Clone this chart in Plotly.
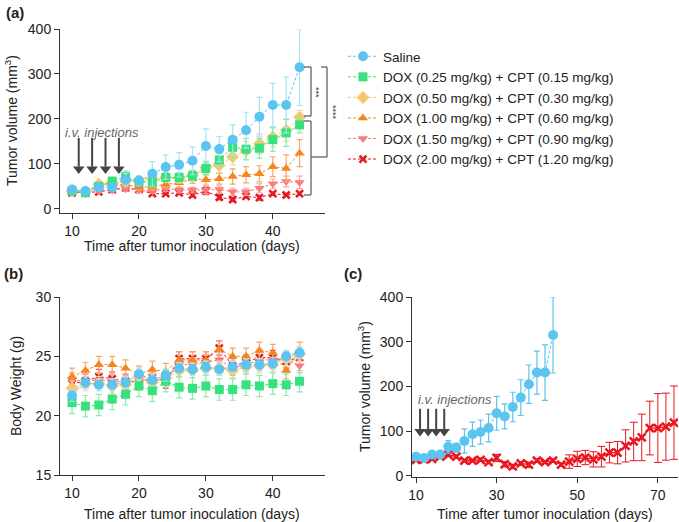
import plotly.graph_objects as go

W, H = 679, 522

# ---------------- data ----------------
days_a = [10, 12, 14, 16, 18, 20, 22, 24, 26, 28, 30, 32, 34, 36, 38, 40, 42, 44]
days_c_red = days_a + [46, 48, 50, 52, 54, 56, 58, 60, 62, 64, 66, 68, 70, 72, 74]

names = ["Saline",
         "DOX (0.25 mg/kg) + CPT (0.15 mg/kg)",
         "DOX (0.50 mg/kg) + CPT (0.30 mg/kg)",
         "DOX (1.00 mg/kg) + CPT (0.60 mg/kg)",
         "DOX (1.50 mg/kg) + CPT (0.90 mg/kg)",
         "DOX (2.00 mg/kg) + CPT (1.20 mg/kg)"]

# (a) tumor volume
tv_saline = [43, 40, 48, 48, 65, 63, 78, 93, 98, 107, 140, 133, 154, 175, 205, 231, 231, 315]
tv_saline_err = [4, 4, 5, 5, 14, 10, 27, 27, 27, 31, 38, 28, 33, 40, 43, 48, 62, 85]
tv_d025 = [40, 36, 50, 62, 72, 60, 59, 70, 70, 74, 90, 109, 137, 133, 135, 154, 169, 187]
tv_d025_err = [4, 4, 5, 6, 12, 8, 10, 10, 10, 12, 15, 15, 24, 24, 22, 26, 30, 18]
tv_d050 = [40, 38, 55, 58, 62, 62, 68, 70, 68, 75, 92, 97, 116, 130, 145, 160, 175, 204]
tv_d050_err = [4, 4, 6, 6, 8, 8, 10, 10, 10, 10, 14, 16, 18, 20, 22, 22, 25, 15]
tv_d100 = [38, 38, 55, 52, 55, 48, 50, 55, 58, 67, 65, 67, 72, 76, 78, 94, 90, 124]
tv_d100_err = [3, 3, 5, 5, 6, 6, 8, 8, 10, 10, 12, 12, 17, 18, 18, 22, 30, 30]
tv_d150 = [38, 38, 40, 42, 45, 42, 40, 45, 42, 42, 42, 43, 38, 38, 46, 56, 61, 59]
tv_d150_err = [3, 3, 4, 4, 5, 5, 5, 6, 6, 6, 8, 8, 8, 8, 10, 10, 12, 14]
tv_d200 = [36, 37, 38, 43, 47, 43, 34, 34, 36, 31, 40, 26, 21, 28, 25, 34, 31, 34,
           25, 32, 38, 41, 37, 43, 52, 52, 67, 77, 86, 107, 107, 110, 119]
tv_d200_err = [3, 3, 3, 3, 4, 4, 3, 3, 4, 4, 8, 6, 5, 4, 6, 4, 3, 4,
               4, 15, 17, 16, 17, 23, 23, 25, 36, 43, 52, 60, 77, 75, 82]

# (b) body weight
bw_saline = [21.7, 22.8, 22.6, 22.6, 22.8, 23.5, 23.0, 23.4, 24.0, 23.9, 24.1, 23.9, 24.1, 24.3, 24.3, 24.4, 25.0, 25.3]
bw_d025 = [21.1, 20.8, 20.9, 21.4, 21.8, 22.5, 22.1, 22.9, 22.4, 22.3, 22.5, 22.2, 22.2, 22.6, 22.5, 22.7, 22.6, 22.9]
bw_d050 = [22.3, 22.7, 22.7, 22.5, 22.6, 23.3, 22.8, 23.2, 23.8, 23.8, 24.0, 24.0, 23.8, 24.1, 24.2, 24.3, 24.8, 25.2]
bw_d100 = [23.3, 23.8, 24.3, 24.3, 24.0, 23.5, 23.9, 23.7, 24.7, 24.7, 24.7, 25.6, 25.0, 25.0, 25.5, 25.3, 23.8, 25.5]
bw_d150 = [23.0, 22.9, 23.0, 22.9, 22.8, 23.0, 23.0, 23.0, 24.3, 24.3, 24.5, 24.7, 24.0, 24.3, 24.7, 24.7, 24.7, 24.2]
bw_d200 = [22.7, 22.9, 23.3, 23.1, 22.9, 22.8, 23.2, 22.9, 24.8, 24.8, 24.8, 25.7, 24.2, 24.5, 24.9, 24.9, 24.6, 24.9]
bw_err_saline = [0.5] * 18
bw_err_d025 = [0.9] * 18
bw_err_d050 = [0.6] * 18
bw_err_d100 = [0.7] * 18
bw_err_d150 = [0.6] * 18
bw_err_d200 = [0.6] * 18

injection_days = [11, 13, 15, 17]
arrow_a = (158, 84)   # tail, tip (mm3) in panel a
arrow_c = (150, 94)   # tail, tip (mm3) in panel c
ticks_a_x = [10, 20, 30, 40]
ticks_a_y = [0, 100, 200, 300, 400]
ticks_b_y = [15, 20, 25, 30]
ticks_c_x = [10, 30, 50, 70]

# ---------------- styles ----------------
colors = ["#5BC4F1", "#35E27B", "#F8C66C", "#F5861F", "#F77C7C", "#E8161E"]
err_colors = ["#A3E4F7", "#86EDAF", "#F9D59A", "#F7A966", "#F9A8A8", "#EE5A5E"]
symbols = ["circle", "square", "diamond", "triangle-up", "triangle-down", "x-thin"]
sizes = [10, 9, 10, 9, 9, 7]

FONT = "Liberation Sans, Arial, Helvetica, sans-serif"
AX = "#333333"


def px(x):
    return x / W


def py(y):
    return 1 - y / H


fig = go.Figure()

tv_vals = [tv_saline, tv_d025, tv_d050, tv_d100, tv_d150, tv_d200[:18]]
tv_errs = [tv_saline_err, tv_d025_err, tv_d050_err, tv_d100_err, tv_d150_err, tv_d200_err[:18]]
bw_vals = [bw_saline, bw_d025, bw_d050, bw_d100, bw_d150, bw_d200]
bw_errs = [bw_err_saline, bw_err_d025, bw_err_d050, bw_err_d100, bw_err_d150, bw_err_d200]


def marker(i):
    m = dict(symbol=symbols[i], size=sizes[i], color=colors[i])
    if symbols[i] == "x-thin":
        m["line"] = dict(width=2.5, color=colors[i])
    else:
        m["line"] = dict(width=0)
    return m


# injection arrows (shaft + head)
def arrows(xa, ya, tail, tip, head_offset):
    xs, ys = [], []
    for d in injection_days:
        xs += [d, d, None]
        ys += [tail, tip + head_offset, None]
    fig.add_trace(go.Scatter(x=xs, y=ys, mode="lines", line=dict(color="#444", width=2),
                             xaxis=xa, yaxis=ya, showlegend=False, hoverinfo="skip"))
    fig.add_trace(go.Scatter(x=injection_days, y=[tip + head_offset / 2] * len(injection_days), mode="markers",
                             marker=dict(symbol="triangle-down", size=10, color="#444", line=dict(width=0)),
                             xaxis=xa, yaxis=ya, showlegend=False, hoverinfo="skip"))


arrows("x", "y", arrow_a[0], arrow_a[1], 10)
arrows("x3", "y3", arrow_c[0], arrow_c[1], 10)

order = [5, 4, 3, 2, 1, 0]  # draw saline last (on top)
for i in order:
    fig.add_trace(go.Scatter(
        x=days_a, y=tv_vals[i], name=names[i], legendrank=i + 1,
        mode="lines+markers", marker=marker(i),
        line=dict(color=colors[i], width=1, dash="3px,2px"),
        error_y=dict(type="data", array=tv_errs[i], color=err_colors[i], thickness=1.2, width=3),
        xaxis="x", yaxis="y", showlegend=True, cliponaxis=False))

for i in order:
    fig.add_trace(go.Scatter(
        x=days_a, y=bw_vals[i], name=names[i],
        mode="lines+markers", marker=marker(i),
        line=dict(color=colors[i], width=1, dash="3px,2px"),
        error_y=dict(type="data", array=bw_errs[i], color=err_colors[i], thickness=1.2, width=3),
        xaxis="x2", yaxis="y2", showlegend=False))

# (c)
fig.add_trace(go.Scatter(
    x=days_c_red, y=tv_d200, mode="lines+markers",
    marker=dict(symbol="x-thin", size=8, color=colors[5], line=dict(width=2.5, color=colors[5])),
    line=dict(color=colors[5], width=1.2),
    error_y=dict(type="data", array=tv_d200_err, color=colors[5], thickness=1, width=4),
    xaxis="x3", yaxis="y3", showlegend=False))
fig.add_trace(go.Scatter(
    x=days_a, y=tv_saline, mode="lines+markers", marker=dict(symbol="circle", size=10, color=colors[0]),
    line=dict(color=colors[0], width=1, dash="3px,2px"),
    error_y=dict(type="data", array=tv_saline_err, color=colors[0], thickness=1.2, width=3),
    xaxis="x3", yaxis="y3", showlegend=False))

axis_common = dict(showline=True, linecolor=AX, linewidth=1, ticks="outside", ticklen=5, tickcolor=AX,
                   tickwidth=1, showgrid=False, zeroline=False, automargin=False,
                   tickfont=dict(family=FONT, size=14, color="#222"), fixedrange=True)

fig.update_layout(
    width=W, height=H, margin=dict(l=0, r=0, t=0, b=0, pad=0, autoexpand=False),
    paper_bgcolor="white", plot_bgcolor="white",
    font=dict(family=FONT, color="#222"),
    xaxis=dict(domain=[px(60), px(325)], range=[8.2, 47.8], tickvals=ticks_a_x, anchor="y", **axis_common),
    yaxis=dict(domain=[py(213), py(29)], range=[-9, 400], tickvals=ticks_a_y, anchor="x", **axis_common),
    xaxis2=dict(domain=[px(60), px(325)], range=[8.2, 47.8], tickvals=ticks_a_x, anchor="y2", **axis_common),
    yaxis2=dict(domain=[py(475), py(297)], range=[15, 30], tickvals=ticks_b_y, anchor="x2", **axis_common),
    xaxis3=dict(domain=[px(412), px(678)], range=[9, 75], tickvals=ticks_c_x, anchor="y3", **axis_common),
    yaxis3=dict(domain=[py(477), py(297)], range=[-2.5, 400], tickvals=ticks_a_y, anchor="x3", **axis_common),
    legend=dict(x=px(343), y=py(41), xanchor="left", yanchor="top", font=dict(family=FONT, size=13.5, color="#222"),
                bgcolor="rgba(0,0,0,0)", itemwidth=30, tracegroupgap=0, traceorder="normal"),
    showlegend=True,
)

ann = []


def text(x, y, s, size=14, bold=False, angle=0, xanchor="center", color="#222", italic=False):
    ann.append(dict(x=px(x), y=py(y), xref="paper", yref="paper", text=s, showarrow=False,
                    textangle=angle, xanchor=xanchor, yanchor="middle",
                    font=dict(family=FONT, size=size, color=color, weight="bold" if bold else "normal",
                              style="italic" if italic else "normal")))


text(4, 13, "(a)", 15, bold=True, xanchor="left")
text(2, 273, "(b)", 15, bold=True, xanchor="left")
text(342, 273, "(c)", 15, bold=True, xanchor="left")

text(11, 121, "Tumor volume (mm<sup>3</sup>)", 14, angle=-90)
text(192, 246, "Time after tumor inoculation (days)", 14)
text(16, 386, "Body Weight (g)", 14, angle=-90)
text(192, 514, "Time after tumor inoculation (days)", 14)
text(364, 387, "Tumor volume (mm<sup>3</sup>)", 14, angle=-90)
text(545, 514, "Time after tumor inoculation (days)", 14)

text(63, 132, "i.v. injections", 13, xanchor="left", color="#666", italic=True)
text(416, 399, "i.v. injections", 13, xanchor="left", color="#666", italic=True)

# significance markers
text(316, 92, "***", 9, angle=90, color="#333")
text(333, 112, "****", 9, angle=90, color="#333")
fig.update_layout(annotations=ann)

shapes = []


def seg(x0, y0, x1, y1):
    shapes.append(dict(type="line", xref="paper", yref="paper", x0=px(x0), y0=py(y0), x1=px(x1), y1=py(y1),
                       line=dict(color="#555", width=1.2)))


# bracket 1 (saline vs 0.50/0.25)
seg(304, 67, 311, 67)
seg(311, 67, 311, 116)
seg(304, 116, 311, 116)
# lower group bracket
seg(304, 121, 311, 121)
seg(311, 121, 311, 195)
seg(304, 195, 311, 195)
# bracket 2
seg(321, 67, 327, 67)
seg(327, 67, 327, 157)
seg(311, 157, 327, 157)
fig.update_layout(shapes=shapes)

fig.write_html("out.html", config={"displayModeBar": False},
               post_script="document.body.style.margin='0';document.body.style.overflow='hidden';")
